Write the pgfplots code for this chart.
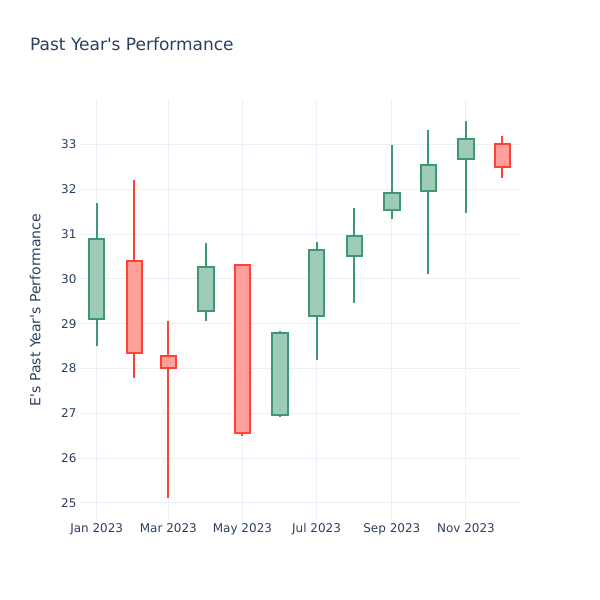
\documentclass[border=0pt]{standalone}
\usepackage{pgfplots}
\pgfplotsset{compat=1.18}
\usepackage{fontspec}
\setmainfont{DejaVu Sans}
\definecolor{inc}{HTML}{3D9970}
\definecolor{dec}{HTML}{FF4136}
\definecolor{incfill}{HTML}{9ECCB8}
\definecolor{decfill}{HTML}{FFA09B}
\definecolor{txt}{HTML}{2A3F5F}
\definecolor{gridc}{HTML}{EBF0F8}
% #1 colour, #2 position (day of 2023), #3 low, #4 body low, #5 body high, #6 high
\newcommand{\candle}[6]{%
  \pgfmathsetmacro\xl{#2-6.3}\pgfmathsetmacro\xr{#2+6.3}%
  \addplot[draw=#1, line width=2pt, mark=none] coordinates {(#2,#3) (#2,#6)};
  \addplot[draw=#1, fill=#1fill, line width=2pt, mark=none, line join=miter]
    coordinates {(\xl,#4) (\xr,#4) (\xr,#5) (\xl,#5)} -- cycle;}
\begin{document}
\begin{tikzpicture}
\path[use as bounding box] (0,0) rectangle (600pt,600pt);
\node[anchor=west, text=txt, font=\fontsize{17}{20}\selectfont, inner sep=0pt] at (30pt,556pt) {Past Year\textquotesingle s Performance};
\begin{axis}[
  at={(80pt,80pt)}, anchor=south west, scale only axis,
  width=440pt, height=420pt,
  xmin=-13.75, xmax=348.5, ymin=24.62, ymax=33.99,
  axis line style={draw=none}, major tick length=0pt,
  grid=major, major grid style={gridc, line width=1pt},
  xtick={0,59,120,181,243,304},
  xticklabels={Jan 2023, Mar 2023, May 2023, Jul 2023, Sep 2023, Nov 2023},
  ytick={25,26,27,28,29,30,31,32,33},
  /pgf/number format/assume math mode=true,
  ticklabel style={text=txt, font=\fontsize{12}{14}\selectfont},
  ylabel={E\textquotesingle s Past Year\textquotesingle s Performance},
  ylabel style={at={(axis description cs:-0.102,0.5)}, anchor=center, text=txt, font=\fontsize{14}{17}\selectfont},
]
\candle{inc}{0}{28.50}{29.10}{30.89}{31.70}
\candle{dec}{31}{27.78}{28.35}{30.40}{32.20}
\candle{dec}{59}{25.11}{28.00}{28.28}{29.05}
\candle{inc}{90}{29.05}{29.29}{30.27}{30.81}
\candle{dec}{120}{26.50}{26.56}{30.30}{30.33}
\candle{inc}{151}{26.91}{26.96}{28.79}{28.84}
\candle{inc}{181}{28.19}{29.17}{30.64}{30.82}
\candle{inc}{212}{29.45}{30.52}{30.95}{31.59}
\candle{inc}{243}{31.34}{31.54}{31.91}{32.98}
\candle{inc}{273}{30.10}{31.95}{32.55}{33.33}
\candle{inc}{304}{31.47}{32.67}{33.13}{33.52}
\candle{dec}{334}{32.26}{32.49}{33.00}{33.19}
\end{axis}
\end{tikzpicture}
\end{document}
